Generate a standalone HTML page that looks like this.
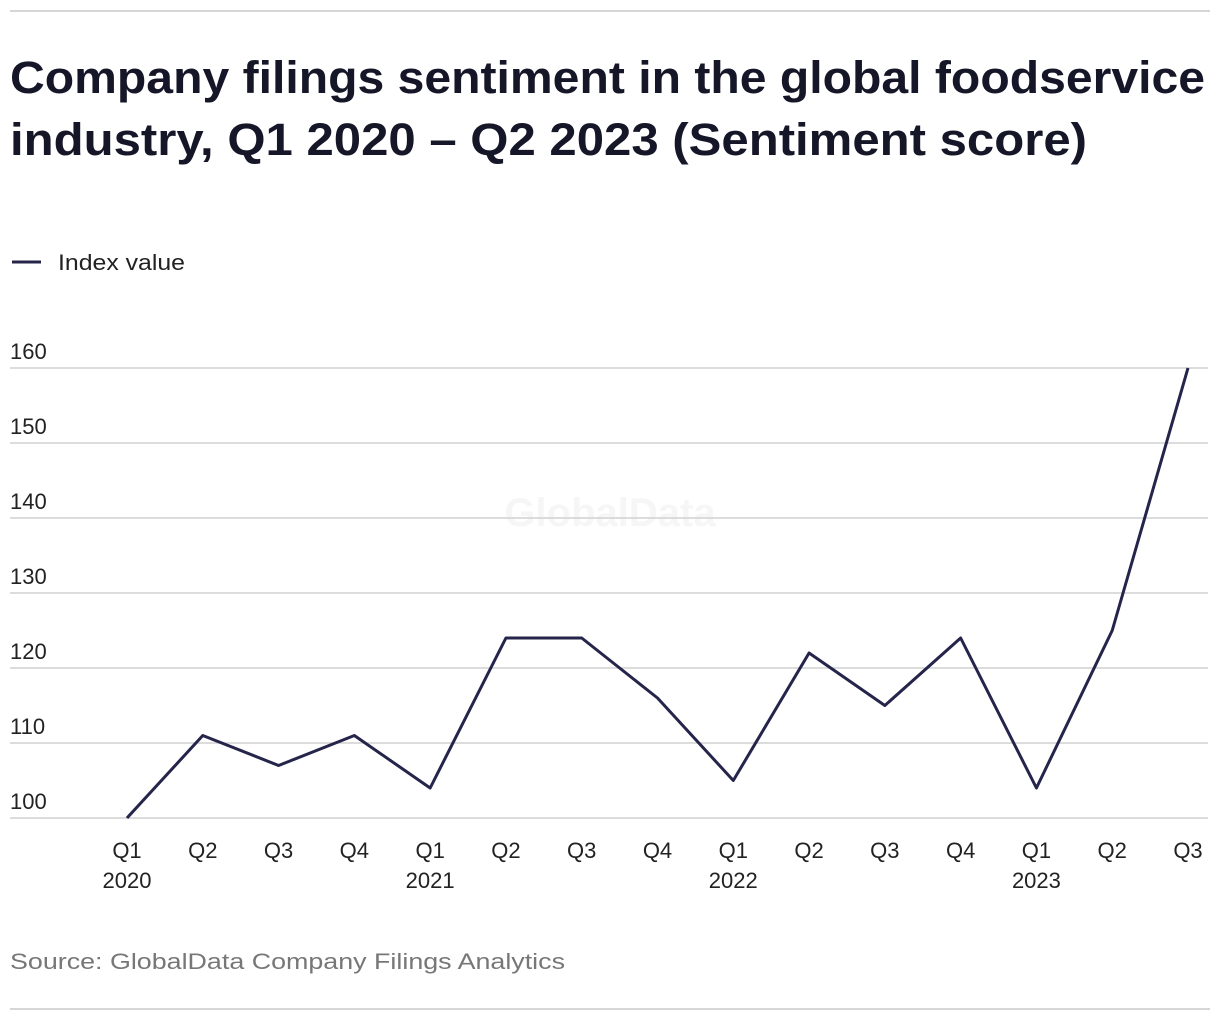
<!DOCTYPE html>
<html><head><meta charset="utf-8"><style>
body{margin:0;background:#fff;font-family:"Liberation Sans",sans-serif;}
#wrap{position:relative;width:1220px;height:1020px;overflow:hidden;}
</style></head><body>
<div id="wrap">
<svg id="chart" width="1220" height="1020">
<line x1="10" y1="11" x2="1210" y2="11" stroke="#d6d6d6" stroke-width="2"/>
<text x="10" y="93" font-size="45" font-weight="bold" fill="#161629" textLength="1195" lengthAdjust="spacingAndGlyphs">Company filings sentiment in the global foodservice</text>
<text x="10" y="155" font-size="45" font-weight="bold" fill="#161629" textLength="1077" lengthAdjust="spacingAndGlyphs">industry, Q1 2020 – Q2 2023 (Sentiment score)</text>
<line x1="12" y1="262" x2="41" y2="262" stroke="#25244a" stroke-width="3"/>
<text x="58" y="270" font-size="22" fill="#222" textLength="127" lengthAdjust="spacingAndGlyphs">Index value</text>
<text x="610" y="526" font-size="40" font-weight="bold" fill="#f6f6f6" text-anchor="middle">GlobalData</text>
<g id="grid"></g><g id="xlab"></g>
<path id="line" fill="none" stroke="#25244a" stroke-width="3" stroke-linejoin="round"/>
<text x="10" y="969" font-size="22" fill="#777" textLength="555" lengthAdjust="spacingAndGlyphs">Source: GlobalData Company Filings Analytics</text>
<line x1="10" y1="1009" x2="1210" y2="1009" stroke="#d6d6d6" stroke-width="2"/>
</svg></div>
<script>
const quarters=["Q1","Q2","Q3","Q4","Q1","Q2","Q3","Q4","Q1","Q2","Q3","Q4","Q1","Q2","Q3"];
const years=["2020","","","","2021","","","","2022","","","","2023","",""];
const values=[100,111,107,111,104,124,124,116,105,122,115,124,104,125,160];
const yTicks=[100,110,120,130,140,150,160];
const NS="http://www.w3.org/2000/svg";
const y=v=>818-(v-100)*7.5;
const x=i=>127+i*(1188-127)/(values.length-1);
const grid=document.getElementById('grid');
yTicks.forEach(t=>{
 const l=document.createElementNS(NS,'line');
 l.setAttribute('x1',10);l.setAttribute('x2',1208);l.setAttribute('y1',y(t));l.setAttribute('y2',y(t));
 l.setAttribute('stroke','#d0d0d0');l.setAttribute('stroke-width',1.5);
 
 
 grid.appendChild(l);
 const tx=document.createElementNS(NS,'text');
 tx.setAttribute('x',10);tx.setAttribute('y',y(t)-9);tx.setAttribute('font-size',22);tx.setAttribute('fill','#222');
 tx.textContent=t;
 
 
 grid.appendChild(tx);
});
const xl=document.getElementById('xlab');
quarters.forEach((q,i)=>{
 const t=document.createElementNS(NS,'text');
 t.setAttribute('x',x(i));t.setAttribute('y',858);t.setAttribute('font-size',22);t.setAttribute('fill','#222');t.setAttribute('text-anchor','middle');
 t.textContent=q;
 
 
 xl.appendChild(t);
 if(years[i]){
  const t2=document.createElementNS(NS,'text');
  t2.setAttribute('x',x(i));t2.setAttribute('y',888);t2.setAttribute('font-size',22);t2.setAttribute('fill','#222');t2.setAttribute('text-anchor','middle');
  t2.textContent=years[i];
  
  
  xl.appendChild(t2);
 }
});
document.getElementById('line').setAttribute('d',values.map((v,i)=>(i?'L':'M')+x(i)+' '+y(v)).join(' '));
</script>
</body></html>
